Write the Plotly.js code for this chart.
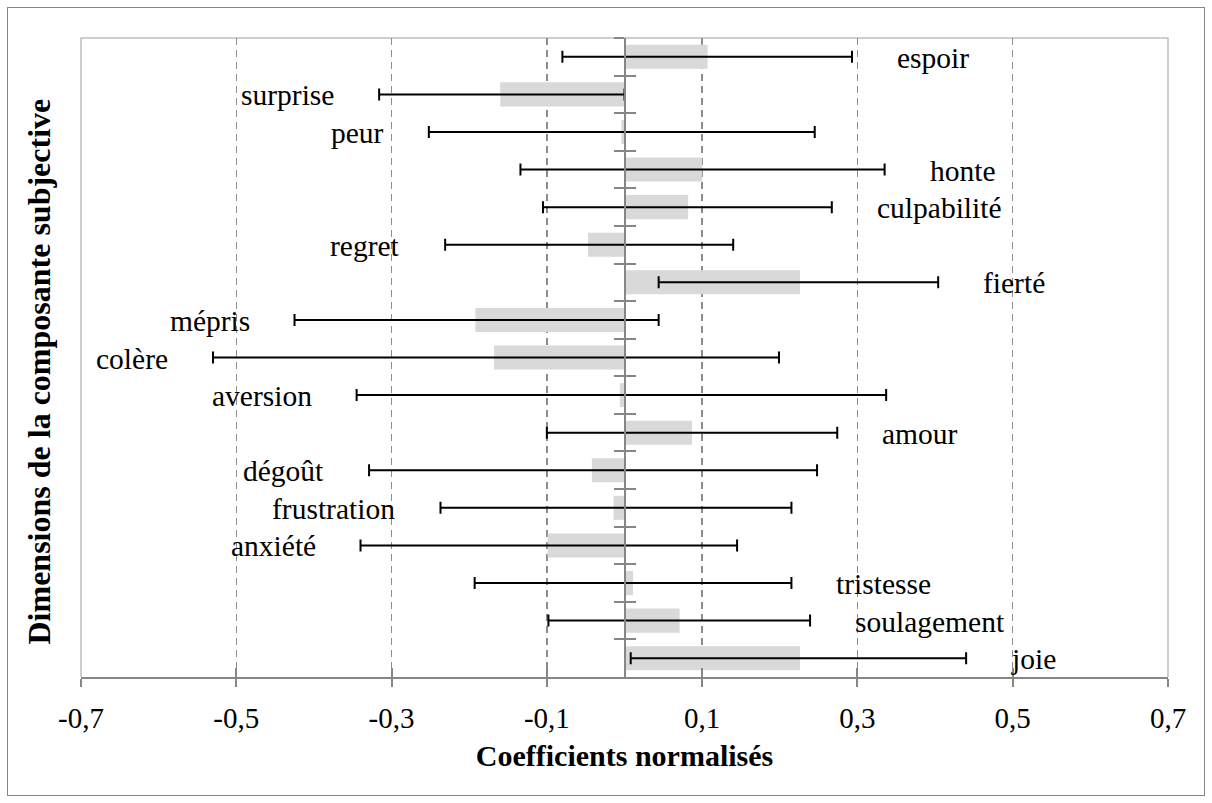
<!DOCTYPE html>
<html>
<head>
<meta charset="utf-8">
<script src="https://cdn.plot.ly/plotly-3.0.1.min.js"></script>
<style>
html, body { margin: 0; padding: 0; background: #fff; }
#chart { width: 1212px; height: 803px; }
#frame { position: absolute; left: 7px; top: 7px; width: 1196px; height: 787px; border: 1px solid #868686; pointer-events: none; }
</style>
</head>
<body>
<div id="chart"></div>
<div id="frame"></div>
<script>
// Categories (top to bottom)
const emotions = ['espoir', 'surprise', 'peur', 'honte', 'culpabilité', 'regret', 'fierté', 'mépris',
  'colère', 'aversion', 'amour', 'dégoût', 'frustration', 'anxiété', 'tristesse', 'soulagement', 'joie'];
// Normalised coefficients (bars)
const coefficients = [0.107, -0.160, -0.004, 0.100, 0.082, -0.047, 0.226, -0.192,
  -0.168, -0.006, 0.087, -0.042, -0.014, -0.099, 0.011, 0.071, 0.226];
// Interval lower / upper bounds (error bars)
const ciLower = [-0.080, -0.316, -0.252, -0.134, -0.105, -0.231, 0.044, -0.425,
  -0.530, -0.345, -0.100, -0.329, -0.237, -0.340, -0.193, -0.098, 0.008];
const ciUpper = [0.293, 0.000, 0.245, 0.335, 0.267, 0.140, 0.404, 0.044,
  0.199, 0.337, 0.274, 0.248, 0.215, 0.145, 0.215, 0.239, 0.440];
// Side of the error bar on which each label sits
const labelSide = ['right', 'left', 'left', 'right', 'right', 'left', 'right', 'left',
  'left', 'left', 'right', 'left', 'left', 'left', 'right', 'right', 'right'];
// X-axis ticks
const xTickValues = [-0.7, -0.5, -0.3, -0.1, 0.1, 0.3, 0.5, 0.7];
const xTickLabels = ['-0,7', '-0,5', '-0,3', '-0,1', '0,1', '0,3', '0,5', '0,7'];

const FONT = 'Liberation Serif, "Times New Roman", serif';
const AXIS_GRAY = '#868686';

const centers = ciLower.map((lo, i) => (lo + ciUpper[i]) / 2);
const plus = ciUpper.map((hi, i) => hi - centers[i]);
const minus = ciLower.map((lo, i) => centers[i] - lo);

const yRange = [emotions.length - 0.5, -0.5];

const traces = [
  {
    type: 'bar', orientation: 'h', x: coefficients, y: emotions,
    marker: { color: '#d9d9d9', line: { width: 0 } },
    hoverinfo: 'x+y'
  },
  {
    type: 'scatter', mode: 'markers', x: centers, y: emotions,
    marker: { size: 1, opacity: 0 },
    error_x: { type: 'data', symmetric: false, array: plus, arrayminus: minus,
      color: '#000', thickness: 2, width: 6 },
    hoverinfo: 'skip'
  },
  { type: 'scatter', mode: 'markers', x: coefficients, y: emotions, xaxis: 'x2', yaxis: 'y',
    marker: { opacity: 0 }, hoverinfo: 'skip' },
  { type: 'scatter', mode: 'markers', x: coefficients, y: emotions, xaxis: 'x', yaxis: 'y2',
    marker: { opacity: 0 }, hoverinfo: 'skip' }
];

const annotations = emotions.map((name, i) => {
  const right = labelSide[i] === 'right';
  return {
    text: name, xref: 'x', yref: 'y',
    x: right ? ciUpper[i] : ciLower[i], y: name,
    xanchor: right ? 'left' : 'right', yanchor: 'middle',
    xshift: right ? 43 : -43, yshift: -1,
    showarrow: false, font: { family: FONT, size: 29.5, color: '#000' }
  };
});
annotations.push({
  text: '<b>Dimensions de la composante subjective</b>',
  xref: 'paper', yref: 'paper', x: 0, y: 0.5, xshift: -43, yshift: -14,
  xanchor: 'center', yanchor: 'middle', textangle: -90, showarrow: false,
  font: { family: FONT, size: 32, color: '#000' }
});

const layout = {
  width: 1212, height: 803,
  margin: { l: 81, r: 44, t: 38, b: 126 },
  paper_bgcolor: '#fff', plot_bgcolor: '#fff',
  showlegend: false,
  bargap: 0.36,
  font: { family: FONT, color: '#000', size: 29 },
  xaxis: {
    range: [-0.7, 0.7], tickmode: 'array', tickvals: xTickValues, ticktext: xTickLabels,
    showgrid: true, gridcolor: '#8c8c8c', gridwidth: 1.3, griddash: '7px,5px',
    zeroline: false, showline: true, linecolor: AXIS_GRAY, linewidth: 2,
    ticks: 'outside', ticklen: 8, tickwidth: 2, tickcolor: AXIS_GRAY,
    ticklabelstandoff: 6,
    tickfont: { family: FONT, size: 29, color: '#000' },
    title: { text: '<b>Coefficients normalisés</b>', font: { family: FONT, size: 30, color: '#000' }, standoff: 12 },
    fixedrange: true
  },
  xaxis2: {
    range: [-0.7, 0.7], overlaying: 'x', anchor: 'y', side: 'bottom',
    tickmode: 'array', tickvals: xTickValues,
    ticks: 'inside', ticklen: 9, tickwidth: 2, tickcolor: AXIS_GRAY,
    showticklabels: false, showgrid: false, zeroline: false, showline: false, fixedrange: true
  },
  yaxis: {
    type: 'category', categoryorder: 'array', categoryarray: emotions, range: yRange,
    anchor: 'free', position: 0.5,
    showline: true, linecolor: AXIS_GRAY, linewidth: 2,
    ticks: 'outside', tickson: 'boundaries', ticklen: 10, tickwidth: 2, tickcolor: AXIS_GRAY,
    showticklabels: false, showgrid: false, zeroline: false, fixedrange: true
  },
  yaxis2: {
    type: 'category', categoryorder: 'array', categoryarray: emotions, range: yRange,
    overlaying: 'y', anchor: 'free', position: 0.5, side: 'left',
    ticks: 'inside', tickson: 'boundaries', ticklen: 10, tickwidth: 2, tickcolor: AXIS_GRAY,
    showticklabels: false, showgrid: false, zeroline: false, showline: false, fixedrange: true
  },
  shapes: [{
    type: 'path', xref: 'paper', yref: 'paper', path: 'M 0 0 L 0 1 L 1 1 L 1 0',
    line: { color: '#bfbfbf', width: 1.5 }, layer: 'below'
  }],
  annotations: annotations
};

Plotly.newPlot('chart', traces, layout, { displayModeBar: false, staticPlot: true });
</script>
</body>
</html>
